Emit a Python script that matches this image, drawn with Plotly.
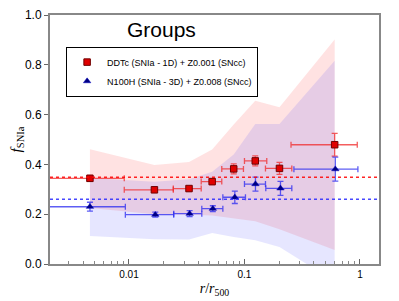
import plotly.graph_objects as go

# ---- data ----
r_red = [0.00459, 0.0166, 0.0331, 0.0525, 0.0807, 0.124, 0.201, 0.604]
f_red = [0.344, 0.298, 0.303, 0.331, 0.382, 0.414, 0.384, 0.479]
ferr_red = [0.012, 0.008, 0.008, 0.012, 0.02, 0.02, 0.024, 0.046]
rlo_red = [0.001, 0.0091, 0.0242, 0.0422, 0.0636, 0.100, 0.152, 0.253]
rhi_red = [0.0091, 0.0242, 0.0422, 0.0636, 0.098, 0.156, 0.257, 0.948]

r_blue = [0.00459, 0.0169, 0.0335, 0.0532, 0.0825, 0.1245, 0.205, 0.612]
f_blue = [0.230, 0.198, 0.202, 0.222, 0.268, 0.321, 0.304, 0.381]
ferr_blue = [0.018, 0.01, 0.012, 0.012, 0.025, 0.028, 0.028, 0.048]
rlo_blue = [0.001, 0.0093, 0.0244, 0.0427, 0.065, 0.100, 0.153, 0.268]
rhi_blue = [0.0093, 0.0244, 0.0427, 0.065, 0.102, 0.152, 0.257, 0.96]

band_r = [0.00459, 0.0166, 0.0331, 0.0525, 0.0807, 0.124, 0.201, 0.604]
red_upper = [0.461, 0.398, 0.41, 0.46, 0.56, 0.656, 0.63, 0.902]
red_lower = [0.225, 0.200, 0.198, 0.195, 0.185, 0.172, 0.140, 0.056]
blue_upper = [0.345, 0.33, 0.34, 0.37, 0.44, 0.562, 0.562, 0.816]
blue_lower = [0.112, 0.099, 0.098, 0.125, 0.108, 0.095, 0.068, -0.07]

mean_red = 0.348
mean_blue = 0.260

label_red = "DDTc (SNIa - 1D) + Z0.001 (SNcc)"
label_blue = "N100H (SNIa - 3D) + Z0.008 (SNcc)"

minor_vals = [m * 10.0 ** k for k in (-3, -2, -1, 0) for m in range(2, 10)]

fig = go.Figure()

# bands
fig.add_trace(go.Scatter(
    x=band_r + band_r[::-1], y=red_upper + red_lower[::-1],
    fill="toself", fillcolor="rgba(255,60,60,0.15)", line=dict(width=0),
    mode="lines", showlegend=False, hoverinfo="skip"))
fig.add_trace(go.Scatter(
    x=band_r + band_r[::-1], y=blue_upper + blue_lower[::-1],
    fill="toself", fillcolor="rgba(60,60,255,0.13)", line=dict(width=0),
    mode="lines", showlegend=False, hoverinfo="skip"))

# mean lines
fig.add_shape(type="line", xref="paper", yref="y", x0=0, x1=1, y0=mean_red, y1=mean_red,
              line=dict(color="rgba(255,0,0,0.85)", width=1.5, dash="dot"))
fig.add_shape(type="line", xref="paper", yref="y", x0=0, x1=1, y0=mean_blue, y1=mean_blue,
              line=dict(color="rgba(40,40,255,0.85)", width=1.5, dash="dot"))

# points
fig.add_trace(go.Scatter(
    x=r_red, y=f_red, mode="markers", name=label_red,
    marker=dict(symbol="square", size=6.5, color="#e00000", line=dict(color="#700000", width=1)),
    error_y=dict(type="data", array=ferr_red, color="rgba(240,40,40,0.75)", thickness=1.3, width=3),
    error_x=dict(type="data", array=[h - c for h, c in zip(rhi_red, r_red)],
                 arrayminus=[c - l for l, c in zip(rlo_red, r_red)],
                 color="rgba(240,40,40,0.75)", thickness=1.3, width=3)))
fig.add_trace(go.Scatter(
    x=r_blue, y=f_blue, mode="markers", name=label_blue,
    marker=dict(symbol="triangle-up", size=6.5, color="#000080", line=dict(color="#0000c0", width=0.5)),
    error_y=dict(type="data", array=ferr_blue, color="rgba(40,40,240,0.75)", thickness=1.3, width=3),
    error_x=dict(type="data", array=[h - c for h, c in zip(rhi_blue, r_blue)],
                 arrayminus=[c - l for l, c in zip(rlo_blue, r_blue)],
                 color="rgba(40,40,240,0.75)", thickness=1.3, width=3)))

fig.add_annotation(text="Groups", xref="paper", yref="paper", x=0.34, y=0.94,
                   showarrow=False, font=dict(size=21, color="black", family="Liberation Sans"),
                   xanchor="center", yanchor="middle")

fig.update_layout(
    width=391, height=293,
    margin=dict(l=42, r=20, t=7, b=37),
    paper_bgcolor="white", plot_bgcolor="white",
    font=dict(family="Liberation Sans", size=12, color="black"),
    legend=dict(x=0.049, y=0.873, xanchor="left", yanchor="top",
                bordercolor="black", borderwidth=1, bgcolor="white",
                font=dict(size=9, family="Liberation Sans"),
                tracegroupgap=0, itemwidth=30),
    showlegend=True,
)
fig.update_xaxes(
    type="log", range=[-2.684, 0.165], automargin=False,
    tickvals=[0.01, 0.1, 1], ticktext=["0.01", "0.1", "1"],
    ticks="inside", ticklen=5, tickcolor="#666",
    minor=dict(tickmode="array", tickvals=minor_vals, ticks="inside", ticklen=3,
               tickcolor="#888", showgrid=False),
    showline=True, linecolor="#888", linewidth=2, mirror=True,
    showgrid=False, zeroline=False,
    tickfont=dict(size=10),
    title=dict(text="<i>r</i>/<i>r</i><sub>500</sub>", font=dict(family="Liberation Serif", size=14), standoff=4),
)
fig.update_yaxes(
    range=[0, 1.0], automargin=False, tickvals=[0, 0.2, 0.4, 0.6, 0.8, 1.0],
    ticktext=["0.0", "0.2", "0.4", "0.6", "0.8", "1.0"],
    ticks="outside", ticklen=4, tickcolor="#666",
    showline=True, linecolor="#888", linewidth=2, mirror=True,
    showgrid=False, zeroline=False,
    tickfont=dict(size=12),
    title=dict(text="<i>f</i><sub>SNIa</sub>", font=dict(family="Liberation Serif", size=15), standoff=4),
)

fig.write_html("out.html")
